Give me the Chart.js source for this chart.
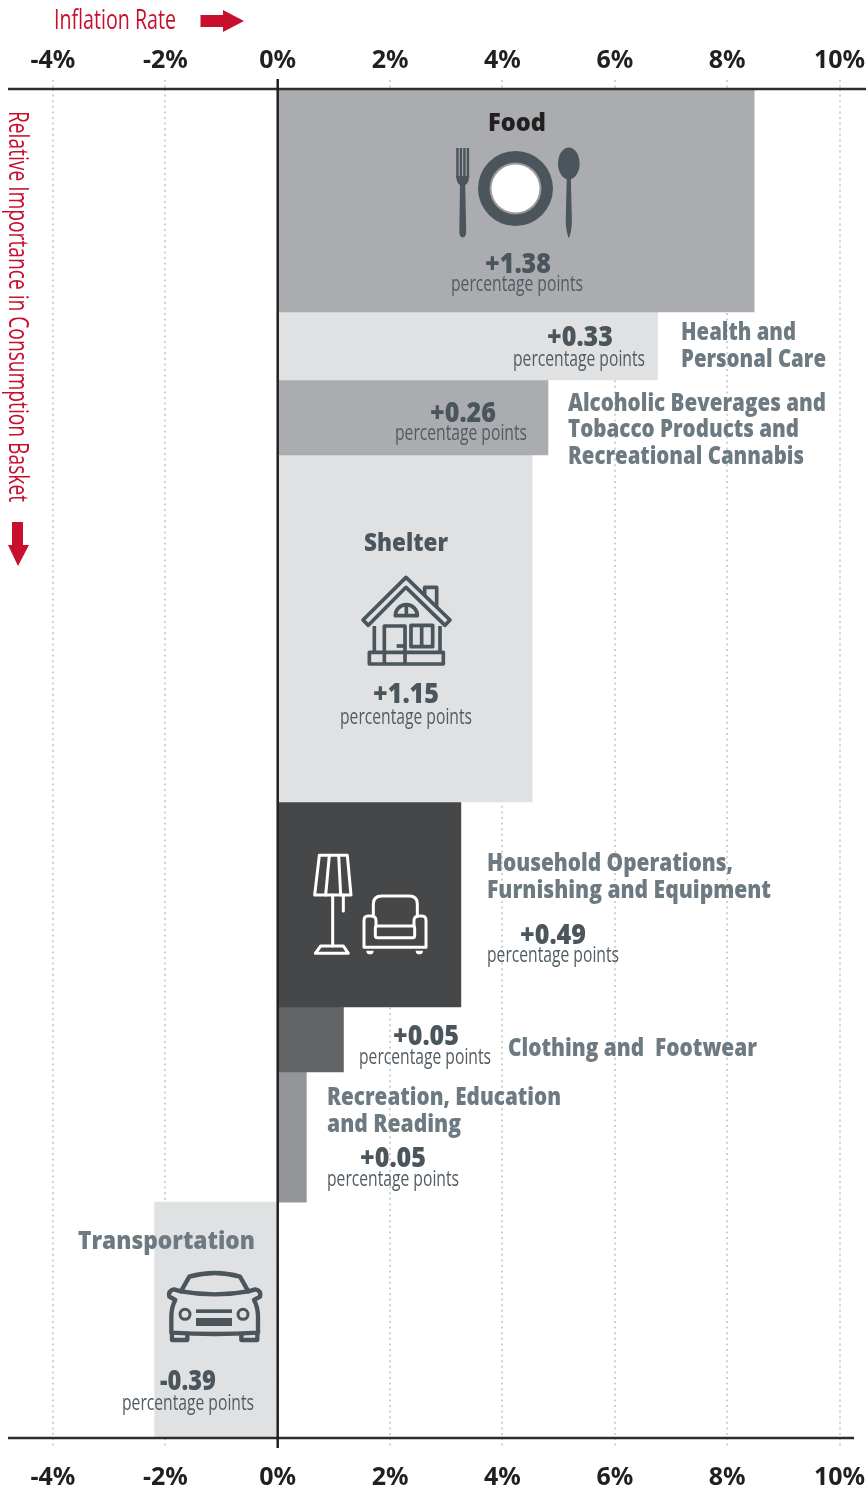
<!DOCTYPE html>
<html>
<head>
<meta charset="utf-8">
<style>
  html, body { margin: 0; padding: 0; background: #fff; }
  canvas { display: block; }
</style>
<script src="https://cdn.jsdelivr.net/npm/chart.js@4/dist/chart.umd.min.js"></script>
</head>
<body>
<canvas id="chart" width="866" height="1486"></canvas>
<script>
// chart data
const categories = ['Food', 'Health and Personal Care', 'Alcoholic Beverages, Tobacco Products and Recreational Cannabis', 'Shelter', 'Household Operations, Furnishing and Equipment', 'Clothing and Footwear', 'Recreation, Education and Reading', 'Transportation'];
const inflationRates = [8.48, 6.76, 4.81, 4.53, 3.26, 1.17, 0.51, -2.19];
const basketWeights = [16.53, 5.04, 5.56, 25.72, 15.2, 4.82, 9.64, 17.49];
const contributions = ['+1.38', '+0.33', '+0.26', '+1.15', '+0.49', '+0.05', '+0.05', '-0.39'];
const barColors = ['#abacaf', '#e0e1e3', '#abacaf', '#e0e1e3', '#464749', '#636466', '#939598', '#e0e1e3'];
const tickValues = [-4, -2, 0, 2, 4, 6, 8, 10];

const RED = '#c8102e';
const DARK = '#231f20';
const SLATE = '#4a555c';
const TITLE_GREY = '#6d7a82';
const FONT = '"Open Sans", "Noto Sans", sans-serif';

// bars sit at the middle of their slice of the basket
let running = 0;
const barMids = basketWeights.map(w => {
    const mid = running + w / 2;
    running += w;
    return mid;
});

function text(ctx, str, x, y, width, font, color, align) {
    ctx.font = font;
    ctx.fillStyle = color;
    ctx.textAlign = align || 'left';
    ctx.textBaseline = 'alphabetic';
    ctx.fillText(str, x, y, width);
}

// big number + "percentage points", pctLeft is the left edge of the small line
function contribution(ctx, i, numLeft, numBase, pctLeft, pctBase) {
    const w = contributions[i].charAt(0) === '-' ? 56 : 66;
    text(ctx, contributions[i], numLeft, numBase, w, '800 28px ' + FONT, SLATE);
    text(ctx, 'percentage points', pctLeft, pctBase, 132, '500 21px ' + FONT, '#505b62');
}

function title(ctx, str, x, y, width, color) {
    text(ctx, str, x, y, width, '800 24px ' + FONT, color || TITLE_GREY);
}

function poly(ctx, pts, closed) {
    ctx.beginPath();
    pts.forEach((p, i) => i ? ctx.lineTo(p[0], p[1]) : ctx.moveTo(p[0], p[1]));
    if (closed) ctx.closePath();
    ctx.stroke();
}

function drawFoodIcon(ctx) {
    ctx.save();
    ctx.fillStyle = SLATE;
    ctx.beginPath();
    ctx.arc(515.5, 188.5, 37.5, 0, Math.PI * 2);
    ctx.fill();
    ctx.fillStyle = '#9a9a9c';
    ctx.beginPath();
    ctx.arc(515.5, 188.5, 26, 0, Math.PI * 2);
    ctx.fill();
    ctx.fillStyle = '#fff';
    ctx.beginPath();
    ctx.arc(515.5, 188.5, 24, 0, Math.PI * 2);
    ctx.fill();

    // fork
    ctx.fillStyle = SLATE;
    [456.2, 459.7, 463.2, 466.7].forEach(x => ctx.fillRect(x, 148, 2.4, 30));
    ctx.beginPath();
    ctx.moveTo(456.2, 176);
    ctx.quadraticCurveTo(456.5, 183, 460, 185);
    ctx.lineTo(459.3, 232);
    ctx.quadraticCurveTo(459.5, 237, 462.6, 237.5);
    ctx.quadraticCurveTo(466, 237, 466.2, 232);
    ctx.lineTo(465.2, 185);
    ctx.quadraticCurveTo(469, 183, 469.1, 176);
    ctx.closePath();
    ctx.fill();

    // spoon
    ctx.beginPath();
    ctx.ellipse(568.8, 163.5, 10.8, 16, 0, 0, Math.PI * 2);
    ctx.fill();
    ctx.beginPath();
    ctx.moveTo(566.8, 176);
    ctx.lineTo(565.7, 222);
    ctx.quadraticCurveTo(566.5, 234, 568.8, 238);
    ctx.quadraticCurveTo(571.2, 234, 571.9, 222);
    ctx.lineTo(570.8, 176);
    ctx.closePath();
    ctx.fill();
    ctx.restore();
}

function drawHouseIcon(ctx) {
    ctx.save();
    ctx.translate(340, 520);
    ctx.scale(1 / 3, 1 / 3);
    ctx.strokeStyle = SLATE;
    ctx.lineWidth = 11;
    ctx.lineJoin = 'round';
    poly(ctx, [[69, 300], [198, 172], [330, 300], [315, 316], [198, 202], [85, 316]], true);
    poly(ctx, [[254, 228], [254, 202], [290, 202], [290, 262]]);
    poly(ctx, [[103, 318], [103, 397]]);
    poly(ctx, [[300, 318], [300, 397]]);
    poly(ctx, [[88, 397], [310, 397], [310, 432], [88, 432]], true);
    poly(ctx, [[133, 432], [133, 318], [195, 318], [195, 432]]);
    poly(ctx, [[170, 378], [195, 378]]);
    poly(ctx, [[213, 316], [278, 316], [278, 380], [213, 380]], true);
    poly(ctx, [[245, 316], [245, 380]]);
    ctx.beginPath();
    ctx.arc(199, 287, 33, Math.PI, 0);
    ctx.closePath();
    ctx.stroke();
    poly(ctx, [[199, 254], [199, 287]]);
    ctx.restore();
}

function drawFurnitureIcon(ctx) {
    ctx.save();
    ctx.translate(290, 840);
    ctx.scale(1 / 3, 1 / 3);
    ctx.strokeStyle = '#fff';
    ctx.lineWidth = 9;
    ctx.lineJoin = 'round';
    ctx.lineCap = 'round';
    // lamp
    poly(ctx, [[88, 46], [172, 46], [183, 165], [74, 165]], true);
    poly(ctx, [[118, 46], [107, 165]]);
    poly(ctx, [[146, 46], [152, 165]]);
    poly(ctx, [[128, 165], [128, 318]]);
    poly(ctx, [[160, 165], [160, 213]]);
    poly(ctx, [[92, 318], [160, 318], [175, 340], [76, 340]], true);
    // armchair
    ctx.beginPath();
    ctx.moveTo(250, 228);
    ctx.lineTo(250, 192);
    ctx.quadraticCurveTo(250, 168, 275, 168);
    ctx.lineTo(358, 168);
    ctx.quadraticCurveTo(382, 168, 382, 192);
    ctx.lineTo(382, 228);
    ctx.stroke();
    ctx.beginPath();
    ctx.moveTo(258, 258);
    ctx.lineTo(258, 242);
    ctx.quadraticCurveTo(258, 228, 243, 228);
    ctx.lineTo(234, 228);
    ctx.quadraticCurveTo(222, 228, 222, 242);
    ctx.lineTo(222, 322);
    ctx.lineTo(408, 322);
    ctx.lineTo(408, 242);
    ctx.quadraticCurveTo(408, 228, 396, 228);
    ctx.lineTo(387, 228);
    ctx.quadraticCurveTo(372, 228, 372, 242);
    ctx.lineTo(372, 258);
    ctx.stroke();
    ctx.beginPath();
    ctx.roundRect(256, 258, 118, 35, 6);
    ctx.stroke();
    ctx.fillStyle = '#fff';
    ctx.beginPath();
    ctx.arc(240, 332, 11, 0, Math.PI);
    ctx.arc(388, 332, 11, 0, Math.PI);
    ctx.fill();
    ctx.restore();
}

function drawCarIcon(ctx) {
    ctx.save();
    ctx.translate(70, 1220);
    ctx.scale(1 / 3, 1 / 3);
    ctx.strokeStyle = SLATE;
    ctx.fillStyle = SLATE;
    ctx.lineWidth = 13;
    ctx.lineJoin = 'round';
    ctx.lineCap = 'round';
    // cabin
    ctx.beginPath();
    ctx.moveTo(333, 214);
    ctx.lineTo(358, 170);
    ctx.quadraticCurveTo(435, 148, 510, 170);
    ctx.lineTo(535, 214);
    ctx.quadraticCurveTo(435, 232, 333, 214);
    ctx.stroke();
    // body
    ctx.beginPath();
    ctx.moveTo(333, 214);
    ctx.lineTo(312, 208);
    ctx.quadraticCurveTo(294, 212, 298, 230);
    ctx.lineTo(316, 240);
    ctx.quadraticCurveTo(304, 262, 304, 290);
    ctx.lineTo(304, 338);
    ctx.quadraticCurveTo(434, 346, 564, 338);
    ctx.lineTo(564, 290);
    ctx.quadraticCurveTo(564, 262, 552, 240);
    ctx.lineTo(570, 230);
    ctx.quadraticCurveTo(574, 212, 556, 208);
    ctx.lineTo(535, 214);
    ctx.stroke();
    // wheels
    ctx.beginPath();
    ctx.moveTo(306, 340);
    ctx.lineTo(306, 360);
    ctx.lineTo(352, 360);
    ctx.lineTo(352, 342);
    ctx.moveTo(514, 342);
    ctx.lineTo(514, 360);
    ctx.lineTo(562, 360);
    ctx.lineTo(562, 340);
    ctx.stroke();
    // lamps and grille
    ctx.lineWidth = 9;
    ctx.beginPath();
    ctx.arc(345, 283, 15, 0, Math.PI * 2);
    ctx.stroke();
    ctx.beginPath();
    ctx.arc(519, 283, 15, 0, Math.PI * 2);
    ctx.stroke();
    ctx.fillRect(378, 268, 108, 11);
    ctx.fillRect(378, 294, 108, 24);
    ctx.restore();
}

const decorations = {
    id: 'decorations',
    afterDatasetsDraw(chart) {
        const { ctx } = chart;
        const x = chart.scales.x;
        const y = chart.scales.y;
        const top = y.getPixelForValue(0);
        const bottom = y.getPixelForValue(100);
        const zero = x.getPixelForValue(0);
        ctx.save();

        // axis rules
        ctx.strokeStyle = '#2e2c2d';
        ctx.lineWidth = 2.5;
        poly(ctx, [[8, top], [866, top]]);
        poly(ctx, [[8, bottom], [854, bottom]]);
        ctx.strokeStyle = DARK;
        poly(ctx, [[zero, top - 10], [zero, bottom + 10]]);

        // axis captions and arrows
        text(ctx, 'Inflation Rate', 54, 29, 122, '500 27px ' + FONT, RED);
        ctx.fillStyle = RED;
        ctx.beginPath();
        ctx.moveTo(200.5, 15);
        ctx.lineTo(223, 15);
        ctx.lineTo(223, 10);
        ctx.lineTo(244, 21);
        ctx.lineTo(223, 32);
        ctx.lineTo(223, 27);
        ctx.lineTo(200.5, 27);
        ctx.closePath();
        ctx.fill();

        ctx.save();
        ctx.translate(9, 111);
        ctx.rotate(Math.PI / 2);
        text(ctx, 'Relative Importance in Consumption Basket', 0, 0, 391, '500 27px ' + FONT, RED);
        ctx.restore();
        ctx.fillStyle = RED;
        ctx.beginPath();
        ctx.moveTo(12, 522);
        ctx.lineTo(23, 522);
        ctx.lineTo(23, 545);
        ctx.lineTo(29, 545);
        ctx.lineTo(18, 566);
        ctx.lineTo(8, 545);
        ctx.lineTo(12, 545);
        ctx.closePath();
        ctx.fill();

        // Food
        title(ctx, 'Food', 488, 131, 58, DARK);
        drawFoodIcon(ctx);
        contribution(ctx, 0, 485, 273, 451, 291);
        // Health and Personal Care
        contribution(ctx, 1, 547, 346, 513, 366);
        title(ctx, 'Health and', 681, 340, 115);
        title(ctx, 'Personal Care', 681, 367, 145);
        // Alcohol, tobacco and cannabis
        contribution(ctx, 2, 430, 422, 395, 440);
        title(ctx, 'Alcoholic Beverages and', 568, 411, 258);
        title(ctx, 'Tobacco Products and', 568, 437, 231);
        title(ctx, 'Recreational Cannabis', 568, 464, 236);
        // Shelter
        title(ctx, 'Shelter', 364, 551, 84, SLATE);
        drawHouseIcon(ctx);
        contribution(ctx, 3, 373, 703, 340, 724);
        // Household
        drawFurnitureIcon(ctx);
        title(ctx, 'Household Operations,', 487, 871, 246);
        title(ctx, 'Furnishing and Equipment', 487, 898, 284);
        contribution(ctx, 4, 520, 944, 487, 962);
        // Clothing
        contribution(ctx, 5, 393, 1045, 359, 1064);
        title(ctx, 'Clothing and  Footwear', 508, 1056, 249);
        // Recreation
        title(ctx, 'Recreation, Education', 327, 1105, 234);
        title(ctx, 'and Reading', 327, 1132, 134);
        contribution(ctx, 6, 360, 1167, 327, 1186);
        // Transportation
        title(ctx, 'Transportation', 78, 1249, 177);
        drawCarIcon(ctx);
        contribution(ctx, 7, 160, 1390, 122, 1410);

        ctx.restore();
    }
};

const fixTicks = scale => {
    scale.ticks = tickValues.map(value => ({ value }));
};

const tickLook = {
    color: DARK,
    maxRotation: 0,
    autoSkip: false,
    font: { family: '"Noto Sans"', weight: 'bold', size: 25 },
    callback: value => value + '%'
};

const axisBase = {
    min: -4.8,
    max: 10.47,
    afterBuildTicks: fixTicks,
    border: { display: false, dash: [2, 3.6] }
};

const gridLook = {
    color: '#cfd2d5',
    lineWidth: 2,
    tickColor: '#cfd2d5',
    tickBorderDash: [2, 3.6],
    tickLength: 9
};

const chart = new Chart(document.getElementById('chart'), {
    type: 'bar',
    data: {
        datasets: categories.map((name, i) => ({
            label: name,
            data: [{ x: inflationRates[i], y: barMids[i] }],
            backgroundColor: barColors[i],
            borderWidth: 0,
            grouped: false,
            barThickness: 10
        }))
    },
    options: {
        indexAxis: 'y',
        responsive: false,
        animation: false,
        layout: { padding: { left: 8, right: 0, top: 0, bottom: 0 } },
        plugins: { legend: { display: false }, tooltip: { enabled: false } },
        scales: {
            x: Object.assign({}, axisBase, {
                position: 'top',
                grid: gridLook,
                ticks: Object.assign({}, tickLook, { padding: 4 }),
                afterFit(scale) {
                    scale.height = 89;
                    scale.paddingLeft = 0;
                    scale.paddingRight = 0;
                }
            }),
            x2: Object.assign({}, axisBase, {
                position: 'bottom',
                grid: Object.assign({}, gridLook, { drawOnChartArea: false }),
                ticks: Object.assign({}, tickLook, { padding: 16 }),
                afterFit(scale) {
                    scale.height = 48;
                    scale.paddingLeft = 0;
                    scale.paddingRight = 0;
                }
            }),
            // bar charts default to an offset index axis, which would pad the basket range
            y: { type: 'linear', display: false, reverse: true, min: 0, max: 100, offset: false, grid: { offset: false } }
        }
    },
    plugins: [decorations]
});

// bar thickness is in pixels, so size each bar from its weight once the scale exists
const yScale = chart.scales.y;
chart.data.datasets.forEach((ds, i) => {
    ds.barThickness = Math.abs(yScale.getPixelForValue(basketWeights[i]) - yScale.getPixelForValue(0));
});
chart.update('none');
</script>
</body>
</html>
